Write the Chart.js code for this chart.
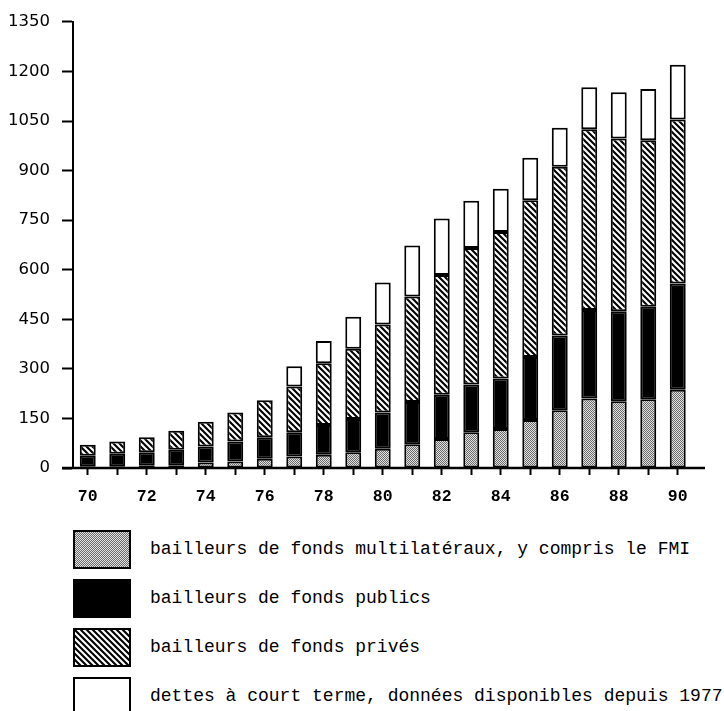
<!DOCTYPE html>
<html>
<head>
<meta charset="utf-8">
<script src="https://cdn.jsdelivr.net/npm/chart.js@4/dist/chart.umd.min.js"></script>
<style>
  html, body { margin: 0; padding: 0; background: #fff; }
  #wrap { position: relative; width: 724px; height: 711px; overflow: hidden; }
  #chart { position: absolute; left: 0; top: 0; }
  .item { position: absolute; left: 0; height: 39px; }
  .sw { position: absolute; left: 73px; top: 0; width: 54px; height: 35px; border: 2px solid #000; }
  .sw canvas { display: block; }
  .lbl { position: absolute; left: 150px; top: 0; height: 39px; line-height: 39px; white-space: nowrap;
         font-family: "Liberation Mono", monospace; font-size: 18px; color: #000; }
</style>
</head>
<body>
<div id="wrap">
  <canvas id="chart" width="724" height="510"></canvas>
  <div id="legend"></div>
</div>
<script>
// ---- data ----
const years = ['70','71','72','73','74','75','76','77','78','79','80','81','82','83','84','85','86','87','88','89','90'];
const multilateral = [5,5,7,8,17,20,28,35,40,48,58,72,88,108,118,145,175,210,202,208,237];
const publicDonors = [32,38,41,47,48,60,65,73,90,100,110,128,134,145,153,191,226,268,272,280,321];
const privateDonors = [33,37,45,58,75,88,112,139,187,213,266,319,362,413,443,474,511,547,523,504,497];
const shortTerm = [null,null,null,null,null,null,null,61,67,97,127,154,171,143,131,129,118,127,140,155,165];
const yTicks = [0,150,300,450,600,750,900,1050,1200,1350];
const seriesNames = [
  'bailleurs de fonds multilatéraux, y compris le FMI',
  'bailleurs de fonds publics',
  'bailleurs de fonds privés',
  'dettes à court terme, données disponibles depuis 1977'
];

// ---- fill patterns ----
function makeTile(w, h, draw) {
  const c = document.createElement('canvas');
  c.width = w; c.height = h;
  draw(c.getContext('2d'), w, h);
  return c;
}
const stippleTile = makeTile(2, 2, (g) => {
  g.fillStyle = '#e2e2e2'; g.fillRect(0, 0, 2, 2);
  g.fillStyle = '#6a6a6a'; g.fillRect(0, 0, 1, 1); g.fillRect(1, 1, 1, 1);
});
const hatchTile = makeTile(6, 6, (g, w, h) => {
  g.fillStyle = '#fff'; g.fillRect(0, 0, w, h);
  g.strokeStyle = '#000'; g.lineWidth = 2.1; g.lineCap = 'square';
  g.beginPath();
  g.moveTo(-2, -2); g.lineTo(w + 2, h + 2);
  g.moveTo(-2, h - 2); g.lineTo(2, h + 2);
  g.moveTo(w - 2, -2); g.lineTo(w + 2, 2);
  g.stroke();
});
const ctx = document.getElementById('chart').getContext('2d');
const fills = [
  ctx.createPattern(stippleTile, 'repeat'),
  '#000',
  ctx.createPattern(hatchTile, 'repeat'),
  '#fff'
];
const seriesData = [multilateral, publicDonors, privateDonors, shortTerm];

// axis line drawn like the original (x axis runs past the bars)
const axisLines = {
  id: 'axisLines',
  afterDraw(chart) {
    const { ctx } = chart;
    const y0 = chart.scales.y.getPixelForValue(0);
    ctx.save();
    ctx.strokeStyle = '#000';
    ctx.lineWidth = 2.5;
    ctx.beginPath();
    ctx.moveTo(62, y0);
    ctx.lineTo(705, y0);
    ctx.stroke();
    ctx.restore();
  }
};

new Chart(ctx, {
  type: 'bar',
  data: {
    labels: years,
    datasets: seriesData.map((d, i) => ({
      label: seriesNames[i],
      data: d,
      backgroundColor: fills[i],
      borderColor: '#000',
      borderWidth: 2,
      borderSkipped: false,
      categoryPercentage: 1,
      barPercentage: 0.54
    }))
  },
  options: {
    responsive: false,
    animation: false,
    layout: { padding: { top: 19, right: 31.5, left: 0, bottom: 0 } },
    plugins: { legend: { display: false }, tooltip: { enabled: false } },
    scales: {
      x: {
        stacked: true,
        offset: true,
        afterFit(s) { s.height = 42; },
        grid: { display: true, drawOnChartArea: false, offset: false, drawTicks: true,
                tickLength: 7, tickColor: '#000', tickWidth: 2 },
        border: { display: false },
        ticks: {
          autoSkip: false, maxRotation: 0, padding: 12, color: '#000',
          font: { family: '"Liberation Mono", monospace', size: 16.5, weight: 'bold' },
          callback: (v, i) => (i % 2 === 0 ? years[i] : '')
        }
      },
      y: {
        stacked: true,
        min: 0, max: 1350,
        afterFit(s) { s.width = 73; },
        afterBuildTicks(s) { s.ticks = yTicks.map(v => ({ value: v })); },
        grid: { display: true, drawOnChartArea: false, drawTicks: true,
                tickLength: 11, tickColor: '#000', tickWidth: 2 },
        border: { display: true, color: '#000', width: 2 },
        ticks: {
          padding: 12, color: '#000',
          font: { family: '"DejaVu Sans", sans-serif', size: 16.5 },
          callback: (v) => String(v)
        }
      }
    }
  },
  plugins: [axisLines]
});

// ---- legend (real text) ----
const legendTops = [530, 579, 628, 677];
const legend = document.getElementById('legend');
seriesNames.forEach((name, i) => {
  const item = document.createElement('div');
  item.className = 'item';
  item.style.top = legendTops[i] + 'px';
  const sw = document.createElement('div');
  sw.className = 'sw';
  const c = document.createElement('canvas');
  c.width = 54; c.height = 35;
  const g = c.getContext('2d');
  g.fillStyle = (typeof fills[i] === 'string') ? fills[i] : g.createPattern(i === 0 ? stippleTile : hatchTile, 'repeat');
  g.fillRect(0, 0, 54, 35);
  sw.appendChild(c);
  const lbl = document.createElement('div');
  lbl.className = 'lbl';
  lbl.textContent = name;
  item.appendChild(sw);
  item.appendChild(lbl);
  legend.appendChild(item);
});
</script>
</body>
</html>
